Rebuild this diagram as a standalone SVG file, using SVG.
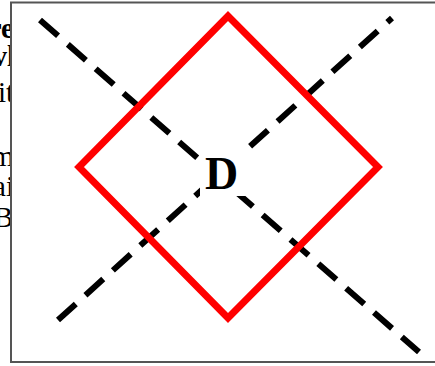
<svg xmlns="http://www.w3.org/2000/svg" width="435" height="366" viewBox="0 0 435 366">
<style>
.t{font-family:"Liberation Serif",serif;font-size:29px;fill:#000}
.b{font-weight:bold}
.dash{stroke:#000;stroke-width:6;stroke-dasharray:24 13;fill:none}
</style>
<rect width="435" height="366" fill="#fff"/>
<g id="sidetext">
<text class="t b" x="14" y="38" text-anchor="end">re</text>
<text class="t b" x="15" y="66" text-anchor="end">vl</text>
<text class="t" x="14" y="102" text-anchor="end">it</text>
<text class="t" x="14" y="166" text-anchor="end">m</text>
<text class="t" x="14" y="196" text-anchor="end">ai</text>
<text class="t" x="13" y="227" text-anchor="end">B</text>
</g>
<rect id="frame" x="11" y="2.5" width="440" height="359.5" fill="#fff" stroke="#555" stroke-width="2"/>
<g id="connectors">
<line class="dash" x1="40" y1="20" x2="419" y2="352"/>
<line class="dash" x1="58" y1="320" x2="392" y2="18"/>
</g>
<g id="diamond">
<polygon points="228,16 378,167 228,318 79,167" fill="none" stroke="#f00" stroke-width="7"/>
</g>
<g id="label">
<rect x="200" y="152" width="46" height="44" fill="#fff"/>
<text x="221.5" y="189" text-anchor="middle" font-family="Liberation Serif,serif" font-weight="bold" font-size="46">D</text>
</g>
</svg>
